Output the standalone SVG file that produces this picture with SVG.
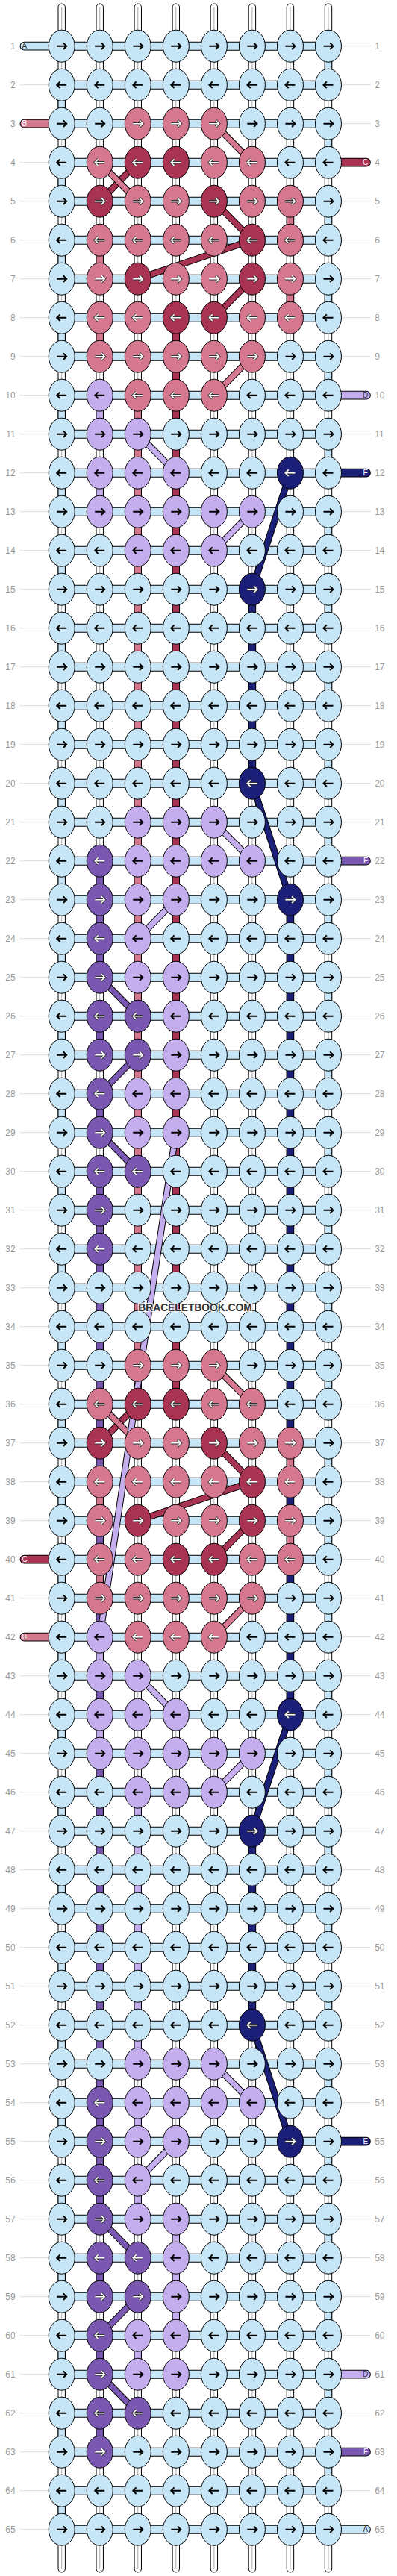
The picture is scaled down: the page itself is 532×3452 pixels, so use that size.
<svg xmlns="http://www.w3.org/2000/svg" width="532" height="3452" viewBox="0 0 532 3452">
<style>
text{font-family:"Liberation Sans",Arial,sans-serif}
.num{font-size:12px;fill:#999}
ellipse{stroke:#000;stroke-width:1}
.cL{fill:#c6e6f7}.cP{fill:#d4778f}.cR{fill:#a83353}.cV{fill:#c4aeee}.cN{fill:#1b1f77}.cU{fill:#7a58b2}
.ab{fill:none;stroke:#000;stroke-width:2}
.ao{fill:none;stroke:#333;stroke-width:3.4}
.aw{fill:none;stroke:#fff;stroke-width:1.6}
.vo{fill:none;stroke:#000;stroke-width:10.4}
.v{fill:none;stroke-width:8.4}
.da{stroke-dasharray:52 52}
.ho{fill:none;stroke:#000;stroke-width:12}
.hf{fill:none;stroke:#c6e6f7;stroke-width:10}
.do{fill:none;stroke:#000;stroke-width:9}
.d{fill:none;stroke-width:7}
.po{fill:none;stroke:#000;stroke-width:11.7;stroke-linecap:round}
.pf{fill:none;stroke-width:9.7;stroke-linecap:round}
.gl{fill:none;stroke:#bbb;stroke-width:1}
.ws{fill:#fff;stroke:#000;stroke-width:1}
.wc{fill:none;stroke:#aaa;stroke-width:1}
.lt{font-size:10px}
.sL{stroke:#c6e6f7}.sP{stroke:#d4778f}.sR{stroke:#a83353}.sV{stroke:#c4aeee}.sN{stroke:#1b1f77}.sU{stroke:#7a58b2}
</style>
<defs>
<path id="ar" d="M-6.5 0H6.2M2.2-4.3L6.5 0L2.2 4.3"/>
<path id="al" d="M6.5 0H-6.2M-2.2-4.3L-6.5 0L-2.2 4.3"/>
<g id="Lr"><ellipse rx="17.5" ry="21.5" class="cL"/><use href="#ar" class="ab"/></g>
<g id="Ll"><ellipse rx="17.5" ry="21.5" class="cL"/><use href="#al" class="ab"/></g>
<g id="Vr"><ellipse rx="17.5" ry="21.5" class="cV"/><use href="#ar" class="ab"/></g>
<g id="Vl"><ellipse rx="17.5" ry="21.5" class="cV"/><use href="#al" class="ab"/></g>
<g id="Pr"><ellipse rx="17.5" ry="21.5" class="cP"/><use href="#ar" class="ao"/><use href="#ar" class="aw"/></g>
<g id="Pl"><ellipse rx="17.5" ry="21.5" class="cP"/><use href="#al" class="ao"/><use href="#al" class="aw"/></g>
<g id="Rr"><ellipse rx="17.5" ry="21.5" class="cR"/><use href="#ar" class="ao"/><use href="#ar" class="aw"/></g>
<g id="Rl"><ellipse rx="17.5" ry="21.5" class="cR"/><use href="#al" class="ao"/><use href="#al" class="aw"/></g>
<g id="Nr"><ellipse rx="17.5" ry="21.5" class="cN"/><use href="#ar" class="ao"/><use href="#ar" class="aw"/></g>
<g id="Nl"><ellipse rx="17.5" ry="21.5" class="cN"/><use href="#al" class="ao"/><use href="#al" class="aw"/></g>
<g id="Ur"><ellipse rx="17.5" ry="21.5" class="cU"/><use href="#ar" class="ao"/><use href="#ar" class="aw"/></g>
<g id="Ul"><ellipse rx="17.5" ry="21.5" class="cU"/><use href="#al" class="ao"/><use href="#al" class="aw"/></g>
<path id="hz" d="M0 0h357.28M0 52h357.28M0 104h357.28M0 156h357.28M0 208h357.28M0 260h357.28M0 312h357.28M0 364h357.28M0 416h357.28M0 468h357.28M0 520h357.28M0 572h357.28M0 624h357.28M0 676h357.28M0 728h357.28M0 780h357.28M0 832h357.28M0 884h357.28M0 936h357.28M0 988h357.28M0 1040h357.28M0 1092h357.28M0 1144h357.28M0 1196h357.28M0 1248h357.28M0 1300h357.28M0 1352h357.28M0 1404h357.28M0 1456h357.28M0 1508h357.28M0 1560h357.28M0 1612h357.28M0 1664h357.28M0 1716h357.28M0 1768h357.28M0 1820h357.28M0 1872h357.28M0 1924h357.28M0 1976h357.28M0 2028h357.28M0 2080h357.28M0 2132h357.28M0 2184h357.28M0 2236h357.28M0 2288h357.28M0 2340h357.28M0 2392h357.28M0 2444h357.28M0 2496h357.28M0 2548h357.28M0 2600h357.28M0 2652h357.28M0 2704h357.28M0 2756h357.28M0 2808h357.28M0 2860h357.28M0 2912h357.28M0 2964h357.28M0 3016h357.28M0 3068h357.28M0 3120h357.28M0 3172h357.28M0 3224h357.28M0 3276h357.28M0 3328h357.28"/>
<path id="vE" d="M0 52V3328M357.28 0V3276"/>
<path id="vP" d="M51.04 260V312M51.04 364V416M51.04 1924V1976M51.04 2028V2080M102.08 468V1820M306.24 208V260M306.24 312V364M306.24 1872V1924M306.24 1976V2028"/>
<path id="vR" d="M153.12 364V1820"/>
<path id="vV" d="M51.04 468V520M51.04 572V624M51.04 2132V2184M51.04 2236V2288M102.08 2340V2704M102.08 2756V2808M102.08 2860V2912M102.08 3068V3120M153.12 2912V3068"/>
<path id="vN" d="M255.2 728V988M255.2 2392V2652M306.24 1144V1872M306.24 1924V1976M306.24 2028V2236"/>
<path id="vU" d="M51.04 1092V1248M51.04 1300V1352M51.04 1404V1456M51.04 1508V1924M51.04 1976V2028M51.04 2080V2132M51.04 2184V2236M51.04 2288V2912M51.04 2964V3016M51.04 3068V3120M51.04 3172V3224"/>
<path id="dR" d="M102.08 156L51.04 208M204.16 208L255.2 260M255.2 260L102.08 312M255.2 312L204.16 364M102.08 1820L51.04 1872M204.16 1872L255.2 1924M255.2 1924L102.08 1976M255.2 1976L204.16 2028"/>
<path id="dP" d="M204.16 104L255.2 156M51.04 156L102.08 208M255.2 416L204.16 468M204.16 1768L255.2 1820M51.04 1820L102.08 1872M255.2 2080L204.16 2132"/>
<path id="dV" d="M102.08 520L153.12 572M255.2 624L204.16 676M204.16 1040L255.2 1092M153.12 1144L102.08 1196M153.12 1456L51.04 2132M102.08 2184L153.12 2236M255.2 2288L204.16 2340M204.16 2704L255.2 2756M153.12 2808L102.08 2860"/>
<path id="dN" d="M306.24 572L255.2 728M255.2 988L306.24 1144M306.24 2236L255.2 2392M255.2 2652L306.24 2808"/>
<path id="dU" d="M51.04 1248L102.08 1300M102.08 1352L51.04 1404M51.04 1456L102.08 1508M51.04 2912L102.08 2964M102.08 3016L51.04 3068M51.04 3120L102.08 3172"/>
</defs>
<rect width="532" height="3452" fill="#fff"/>
<g transform="translate(82.7 61.7)">
<g id="labels">
<use href="#hz" class="gl" transform="translate(-56 0) scale(0.10776 1)"/>
<use href="#hz" class="gl" transform="translate(375 0) scale(0.10916 1)"/>
<g class="num" text-anchor="end" transform="translate(-62 4.3)"><text y="0">1</text><text y="52">2</text><text y="104">3</text><text y="156">4</text><text y="208">5</text><text y="260">6</text><text y="312">7</text><text y="364">8</text><text y="416">9</text><text y="468">10</text><text y="520">11</text><text y="572">12</text><text y="624">13</text><text y="676">14</text><text y="728">15</text><text y="780">16</text><text y="832">17</text><text y="884">18</text><text y="936">19</text><text y="988">20</text><text y="1040">21</text><text y="1092">22</text><text y="1144">23</text><text y="1196">24</text><text y="1248">25</text><text y="1300">26</text><text y="1352">27</text><text y="1404">28</text><text y="1456">29</text><text y="1508">30</text><text y="1560">31</text><text y="1612">32</text><text y="1664">33</text><text y="1716">34</text><text y="1768">35</text><text y="1820">36</text><text y="1872">37</text><text y="1924">38</text><text y="1976">39</text><text y="2028">40</text><text y="2080">41</text><text y="2132">42</text><text y="2184">43</text><text y="2236">44</text><text y="2288">45</text><text y="2340">46</text><text y="2392">47</text><text y="2444">48</text><text y="2496">49</text><text y="2548">50</text><text y="2600">51</text><text y="2652">52</text><text y="2704">53</text><text y="2756">54</text><text y="2808">55</text><text y="2860">56</text><text y="2912">57</text><text y="2964">58</text><text y="3016">59</text><text y="3068">60</text><text y="3120">61</text><text y="3172">62</text><text y="3224">63</text><text y="3276">64</text><text y="3328">65</text></g>
<g class="num" transform="translate(419.5 4.3)"><text y="0">1</text><text y="52">2</text><text y="104">3</text><text y="156">4</text><text y="208">5</text><text y="260">6</text><text y="312">7</text><text y="364">8</text><text y="416">9</text><text y="468">10</text><text y="520">11</text><text y="572">12</text><text y="624">13</text><text y="676">14</text><text y="728">15</text><text y="780">16</text><text y="832">17</text><text y="884">18</text><text y="936">19</text><text y="988">20</text><text y="1040">21</text><text y="1092">22</text><text y="1144">23</text><text y="1196">24</text><text y="1248">25</text><text y="1300">26</text><text y="1352">27</text><text y="1404">28</text><text y="1456">29</text><text y="1508">30</text><text y="1560">31</text><text y="1612">32</text><text y="1664">33</text><text y="1716">34</text><text y="1768">35</text><text y="1820">36</text><text y="1872">37</text><text y="1924">38</text><text y="1976">39</text><text y="2028">40</text><text y="2080">41</text><text y="2132">42</text><text y="2184">43</text><text y="2236">44</text><text y="2288">45</text><text y="2340">46</text><text y="2392">47</text><text y="2444">48</text><text y="2496">49</text><text y="2548">50</text><text y="2600">51</text><text y="2652">52</text><text y="2704">53</text><text y="2756">54</text><text y="2808">55</text><text y="2860">56</text><text y="2912">57</text><text y="2964">58</text><text y="3016">59</text><text y="3068">60</text><text y="3120">61</text><text y="3172">62</text><text y="3224">63</text><text y="3276">64</text><text y="3328">65</text></g>
</g>
<g id="connectors">
<rect class="ws" x="-4.7" y="-56.7" width="9.4" height="3442" rx="4.7"/>
<rect class="ws" x="46.34" y="-56.7" width="9.4" height="3442" rx="4.7"/>
<rect class="ws" x="97.38" y="-56.7" width="9.4" height="3442" rx="4.7"/>
<rect class="ws" x="148.42" y="-56.7" width="9.4" height="3442" rx="4.7"/>
<rect class="ws" x="199.46" y="-56.7" width="9.4" height="3442" rx="4.7"/>
<rect class="ws" x="250.5" y="-56.7" width="9.4" height="3442" rx="4.7"/>
<rect class="ws" x="301.54" y="-56.7" width="9.4" height="3442" rx="4.7"/>
<rect class="ws" x="352.58" y="-56.7" width="9.4" height="3442" rx="4.7"/>
<path class="wc" d="M0 -52V3381M51.04 -52V3381M102.08 -52V3381M153.12 -52V3381M204.16 -52V3381M255.2 -52V3381M306.24 -52V3381M357.28 -52V3381"/>
<use href="#vE" class="vo da"/><use href="#vE" class="v sL da"/>
<use href="#vP" class="vo"/><use href="#vP" class="v sP"/>
<use href="#vR" class="vo"/><use href="#vR" class="v sR"/>
<use href="#vV" class="vo"/><use href="#vV" class="v sV"/>
<use href="#vN" class="vo"/><use href="#vN" class="v sN"/>
<use href="#vU" class="vo"/><use href="#vU" class="v sU"/>
<use href="#hz" class="ho"/><use href="#hz" class="hf"/>
<path class="po" d="M-50.3 0H0M-50.3 104H0M-50.3 2028H0M-50.3 2132H0M357.28 156H408.3M357.28 468H408.3M357.28 572H408.3M357.28 1092H408.3M357.28 2808H408.3M357.28 3120H408.3M357.28 3224H408.3M357.28 3328H408.3"/>
<path class="pf sL" d="M-50.3 0H0M357.28 3328H408.3"/>
<path class="pf sP" d="M-50.3 104H0M-50.3 2132H0"/>
<path class="pf sR" d="M-50.3 2028H0M357.28 156H408.3"/>
<path class="pf sV" d="M357.28 468H408.3M357.28 3120H408.3"/>
<path class="pf sN" d="M357.28 572H408.3M357.28 2808H408.3"/>
<path class="pf sU" d="M357.28 1092H408.3M357.28 3224H408.3"/>
<g class="lt">
<text x="-53.2" y="3.6" fill="#333">A</text>
<text x="-53.2" y="107.6" fill="#fff">B</text>
<text x="-53.2" y="2031.6" fill="#fff">C</text>
<text x="-53.2" y="2135.6" fill="#fff">B</text>
<g text-anchor="end">
<text x="410.5" y="159.6" fill="#fff">C</text>
<text x="410.5" y="471.6" fill="#333">D</text>
<text x="410.5" y="575.6" fill="#fff">E</text>
<text x="410.5" y="1095.6" fill="#fff">F</text>
<text x="410.5" y="2811.6" fill="#fff">E</text>
<text x="410.5" y="3123.6" fill="#333">D</text>
<text x="410.5" y="3227.6" fill="#fff">F</text>
<text x="410.5" y="3331.6" fill="#333">A</text>
</g>
</g>
<use href="#dR" class="do"/><use href="#dR" class="d sR"/>
<use href="#dP" class="do"/><use href="#dP" class="d sP"/>
<use href="#dV" class="do"/><use href="#dV" class="d sV"/>
<use href="#dN" class="do"/><use href="#dN" class="d sN"/>
<use href="#dU" class="do"/><use href="#dU" class="d sU"/>
</g>
<g id="knots">
<g id="row1"><use href="#Lr" id="k1_1"/><use href="#Lr" x="51.04" id="k1_2"/><use href="#Lr" x="102.08" id="k1_3"/><use href="#Lr" x="153.12" id="k1_4"/><use href="#Lr" x="204.16" id="k1_5"/><use href="#Lr" x="255.2" id="k1_6"/><use href="#Lr" x="306.24" id="k1_7"/><use href="#Lr" x="357.28" id="k1_8"/></g>
<g id="row2" transform="translate(0 52)"><use href="#Ll" id="k2_1"/><use href="#Ll" x="51.04" id="k2_2"/><use href="#Ll" x="102.08" id="k2_3"/><use href="#Ll" x="153.12" id="k2_4"/><use href="#Ll" x="204.16" id="k2_5"/><use href="#Ll" x="255.2" id="k2_6"/><use href="#Ll" x="306.24" id="k2_7"/><use href="#Ll" x="357.28" id="k2_8"/></g>
<g id="row3" transform="translate(0 104)"><use href="#Lr" id="k3_1"/><use href="#Lr" x="51.04" id="k3_2"/><use href="#Pr" x="102.08" id="k3_3"/><use href="#Pr" x="153.12" id="k3_4"/><use href="#Pr" x="204.16" id="k3_5"/><use href="#Lr" x="255.2" id="k3_6"/><use href="#Lr" x="306.24" id="k3_7"/><use href="#Lr" x="357.28" id="k3_8"/></g>
<g id="row4" transform="translate(0 156)"><use href="#Ll" id="k4_1"/><use href="#Pl" x="51.04" id="k4_2"/><use href="#Rl" x="102.08" id="k4_3"/><use href="#Rl" x="153.12" id="k4_4"/><use href="#Pl" x="204.16" id="k4_5"/><use href="#Pl" x="255.2" id="k4_6"/><use href="#Ll" x="306.24" id="k4_7"/><use href="#Ll" x="357.28" id="k4_8"/></g>
<g id="row5" transform="translate(0 208)"><use href="#Lr" id="k5_1"/><use href="#Rr" x="51.04" id="k5_2"/><use href="#Pr" x="102.08" id="k5_3"/><use href="#Pr" x="153.12" id="k5_4"/><use href="#Rr" x="204.16" id="k5_5"/><use href="#Pr" x="255.2" id="k5_6"/><use href="#Pr" x="306.24" id="k5_7"/><use href="#Lr" x="357.28" id="k5_8"/></g>
<g id="row6" transform="translate(0 260)"><use href="#Ll" id="k6_1"/><use href="#Pl" x="51.04" id="k6_2"/><use href="#Pl" x="102.08" id="k6_3"/><use href="#Pl" x="153.12" id="k6_4"/><use href="#Pl" x="204.16" id="k6_5"/><use href="#Rl" x="255.2" id="k6_6"/><use href="#Pl" x="306.24" id="k6_7"/><use href="#Ll" x="357.28" id="k6_8"/></g>
<g id="row7" transform="translate(0 312)"><use href="#Lr" id="k7_1"/><use href="#Pr" x="51.04" id="k7_2"/><use href="#Rr" x="102.08" id="k7_3"/><use href="#Pr" x="153.12" id="k7_4"/><use href="#Pr" x="204.16" id="k7_5"/><use href="#Rr" x="255.2" id="k7_6"/><use href="#Pr" x="306.24" id="k7_7"/><use href="#Lr" x="357.28" id="k7_8"/></g>
<g id="row8" transform="translate(0 364)"><use href="#Ll" id="k8_1"/><use href="#Pl" x="51.04" id="k8_2"/><use href="#Pl" x="102.08" id="k8_3"/><use href="#Rl" x="153.12" id="k8_4"/><use href="#Rl" x="204.16" id="k8_5"/><use href="#Pl" x="255.2" id="k8_6"/><use href="#Pl" x="306.24" id="k8_7"/><use href="#Ll" x="357.28" id="k8_8"/></g>
<g id="row9" transform="translate(0 416)"><use href="#Lr" id="k9_1"/><use href="#Pr" x="51.04" id="k9_2"/><use href="#Pr" x="102.08" id="k9_3"/><use href="#Pr" x="153.12" id="k9_4"/><use href="#Pr" x="204.16" id="k9_5"/><use href="#Pr" x="255.2" id="k9_6"/><use href="#Lr" x="306.24" id="k9_7"/><use href="#Lr" x="357.28" id="k9_8"/></g>
<g id="row10" transform="translate(0 468)"><use href="#Ll" id="k10_1"/><use href="#Vl" x="51.04" id="k10_2"/><use href="#Pl" x="102.08" id="k10_3"/><use href="#Pl" x="153.12" id="k10_4"/><use href="#Pl" x="204.16" id="k10_5"/><use href="#Ll" x="255.2" id="k10_6"/><use href="#Ll" x="306.24" id="k10_7"/><use href="#Ll" x="357.28" id="k10_8"/></g>
<g id="row11" transform="translate(0 520)"><use href="#Lr" id="k11_1"/><use href="#Vr" x="51.04" id="k11_2"/><use href="#Vr" x="102.08" id="k11_3"/><use href="#Lr" x="153.12" id="k11_4"/><use href="#Lr" x="204.16" id="k11_5"/><use href="#Lr" x="255.2" id="k11_6"/><use href="#Lr" x="306.24" id="k11_7"/><use href="#Lr" x="357.28" id="k11_8"/></g>
<g id="row12" transform="translate(0 572)"><use href="#Ll" id="k12_1"/><use href="#Vl" x="51.04" id="k12_2"/><use href="#Vl" x="102.08" id="k12_3"/><use href="#Vl" x="153.12" id="k12_4"/><use href="#Ll" x="204.16" id="k12_5"/><use href="#Ll" x="255.2" id="k12_6"/><use href="#Nl" x="306.24" id="k12_7"/><use href="#Ll" x="357.28" id="k12_8"/></g>
<g id="row13" transform="translate(0 624)"><use href="#Lr" id="k13_1"/><use href="#Vr" x="51.04" id="k13_2"/><use href="#Vr" x="102.08" id="k13_3"/><use href="#Vr" x="153.12" id="k13_4"/><use href="#Vr" x="204.16" id="k13_5"/><use href="#Vr" x="255.2" id="k13_6"/><use href="#Lr" x="306.24" id="k13_7"/><use href="#Lr" x="357.28" id="k13_8"/></g>
<g id="row14" transform="translate(0 676)"><use href="#Ll" id="k14_1"/><use href="#Ll" x="51.04" id="k14_2"/><use href="#Vl" x="102.08" id="k14_3"/><use href="#Vl" x="153.12" id="k14_4"/><use href="#Vl" x="204.16" id="k14_5"/><use href="#Ll" x="255.2" id="k14_6"/><use href="#Ll" x="306.24" id="k14_7"/><use href="#Ll" x="357.28" id="k14_8"/></g>
<g id="row15" transform="translate(0 728)"><use href="#Lr" id="k15_1"/><use href="#Lr" x="51.04" id="k15_2"/><use href="#Lr" x="102.08" id="k15_3"/><use href="#Lr" x="153.12" id="k15_4"/><use href="#Lr" x="204.16" id="k15_5"/><use href="#Nr" x="255.2" id="k15_6"/><use href="#Lr" x="306.24" id="k15_7"/><use href="#Lr" x="357.28" id="k15_8"/></g>
<g id="row16" transform="translate(0 780)"><use href="#Ll" id="k16_1"/><use href="#Ll" x="51.04" id="k16_2"/><use href="#Ll" x="102.08" id="k16_3"/><use href="#Ll" x="153.12" id="k16_4"/><use href="#Ll" x="204.16" id="k16_5"/><use href="#Ll" x="255.2" id="k16_6"/><use href="#Ll" x="306.24" id="k16_7"/><use href="#Ll" x="357.28" id="k16_8"/></g>
<g id="row17" transform="translate(0 832)"><use href="#Lr" id="k17_1"/><use href="#Lr" x="51.04" id="k17_2"/><use href="#Lr" x="102.08" id="k17_3"/><use href="#Lr" x="153.12" id="k17_4"/><use href="#Lr" x="204.16" id="k17_5"/><use href="#Lr" x="255.2" id="k17_6"/><use href="#Lr" x="306.24" id="k17_7"/><use href="#Lr" x="357.28" id="k17_8"/></g>
<g id="row18" transform="translate(0 884)"><use href="#Ll" id="k18_1"/><use href="#Ll" x="51.04" id="k18_2"/><use href="#Ll" x="102.08" id="k18_3"/><use href="#Ll" x="153.12" id="k18_4"/><use href="#Ll" x="204.16" id="k18_5"/><use href="#Ll" x="255.2" id="k18_6"/><use href="#Ll" x="306.24" id="k18_7"/><use href="#Ll" x="357.28" id="k18_8"/></g>
<g id="row19" transform="translate(0 936)"><use href="#Lr" id="k19_1"/><use href="#Lr" x="51.04" id="k19_2"/><use href="#Lr" x="102.08" id="k19_3"/><use href="#Lr" x="153.12" id="k19_4"/><use href="#Lr" x="204.16" id="k19_5"/><use href="#Lr" x="255.2" id="k19_6"/><use href="#Lr" x="306.24" id="k19_7"/><use href="#Lr" x="357.28" id="k19_8"/></g>
<g id="row20" transform="translate(0 988)"><use href="#Ll" id="k20_1"/><use href="#Ll" x="51.04" id="k20_2"/><use href="#Ll" x="102.08" id="k20_3"/><use href="#Ll" x="153.12" id="k20_4"/><use href="#Ll" x="204.16" id="k20_5"/><use href="#Nl" x="255.2" id="k20_6"/><use href="#Ll" x="306.24" id="k20_7"/><use href="#Ll" x="357.28" id="k20_8"/></g>
<g id="row21" transform="translate(0 1040)"><use href="#Lr" id="k21_1"/><use href="#Lr" x="51.04" id="k21_2"/><use href="#Vr" x="102.08" id="k21_3"/><use href="#Vr" x="153.12" id="k21_4"/><use href="#Vr" x="204.16" id="k21_5"/><use href="#Lr" x="255.2" id="k21_6"/><use href="#Lr" x="306.24" id="k21_7"/><use href="#Lr" x="357.28" id="k21_8"/></g>
<g id="row22" transform="translate(0 1092)"><use href="#Ll" id="k22_1"/><use href="#Ul" x="51.04" id="k22_2"/><use href="#Vl" x="102.08" id="k22_3"/><use href="#Vl" x="153.12" id="k22_4"/><use href="#Vl" x="204.16" id="k22_5"/><use href="#Vl" x="255.2" id="k22_6"/><use href="#Ll" x="306.24" id="k22_7"/><use href="#Ll" x="357.28" id="k22_8"/></g>
<g id="row23" transform="translate(0 1144)"><use href="#Lr" id="k23_1"/><use href="#Ur" x="51.04" id="k23_2"/><use href="#Vr" x="102.08" id="k23_3"/><use href="#Vr" x="153.12" id="k23_4"/><use href="#Lr" x="204.16" id="k23_5"/><use href="#Lr" x="255.2" id="k23_6"/><use href="#Nr" x="306.24" id="k23_7"/><use href="#Lr" x="357.28" id="k23_8"/></g>
<g id="row24" transform="translate(0 1196)"><use href="#Ll" id="k24_1"/><use href="#Ul" x="51.04" id="k24_2"/><use href="#Vl" x="102.08" id="k24_3"/><use href="#Ll" x="153.12" id="k24_4"/><use href="#Ll" x="204.16" id="k24_5"/><use href="#Ll" x="255.2" id="k24_6"/><use href="#Ll" x="306.24" id="k24_7"/><use href="#Ll" x="357.28" id="k24_8"/></g>
<g id="row25" transform="translate(0 1248)"><use href="#Lr" id="k25_1"/><use href="#Ur" x="51.04" id="k25_2"/><use href="#Vr" x="102.08" id="k25_3"/><use href="#Vr" x="153.12" id="k25_4"/><use href="#Lr" x="204.16" id="k25_5"/><use href="#Lr" x="255.2" id="k25_6"/><use href="#Lr" x="306.24" id="k25_7"/><use href="#Lr" x="357.28" id="k25_8"/></g>
<g id="row26" transform="translate(0 1300)"><use href="#Ll" id="k26_1"/><use href="#Ul" x="51.04" id="k26_2"/><use href="#Ul" x="102.08" id="k26_3"/><use href="#Vl" x="153.12" id="k26_4"/><use href="#Ll" x="204.16" id="k26_5"/><use href="#Ll" x="255.2" id="k26_6"/><use href="#Ll" x="306.24" id="k26_7"/><use href="#Ll" x="357.28" id="k26_8"/></g>
<g id="row27" transform="translate(0 1352)"><use href="#Lr" id="k27_1"/><use href="#Ur" x="51.04" id="k27_2"/><use href="#Ur" x="102.08" id="k27_3"/><use href="#Vr" x="153.12" id="k27_4"/><use href="#Lr" x="204.16" id="k27_5"/><use href="#Lr" x="255.2" id="k27_6"/><use href="#Lr" x="306.24" id="k27_7"/><use href="#Lr" x="357.28" id="k27_8"/></g>
<g id="row28" transform="translate(0 1404)"><use href="#Ll" id="k28_1"/><use href="#Ul" x="51.04" id="k28_2"/><use href="#Vl" x="102.08" id="k28_3"/><use href="#Vl" x="153.12" id="k28_4"/><use href="#Ll" x="204.16" id="k28_5"/><use href="#Ll" x="255.2" id="k28_6"/><use href="#Ll" x="306.24" id="k28_7"/><use href="#Ll" x="357.28" id="k28_8"/></g>
<g id="row29" transform="translate(0 1456)"><use href="#Lr" id="k29_1"/><use href="#Ur" x="51.04" id="k29_2"/><use href="#Vr" x="102.08" id="k29_3"/><use href="#Vr" x="153.12" id="k29_4"/><use href="#Lr" x="204.16" id="k29_5"/><use href="#Lr" x="255.2" id="k29_6"/><use href="#Lr" x="306.24" id="k29_7"/><use href="#Lr" x="357.28" id="k29_8"/></g>
<g id="row30" transform="translate(0 1508)"><use href="#Ll" id="k30_1"/><use href="#Ul" x="51.04" id="k30_2"/><use href="#Ul" x="102.08" id="k30_3"/><use href="#Ll" x="153.12" id="k30_4"/><use href="#Ll" x="204.16" id="k30_5"/><use href="#Ll" x="255.2" id="k30_6"/><use href="#Ll" x="306.24" id="k30_7"/><use href="#Ll" x="357.28" id="k30_8"/></g>
<g id="row31" transform="translate(0 1560)"><use href="#Lr" id="k31_1"/><use href="#Ur" x="51.04" id="k31_2"/><use href="#Lr" x="102.08" id="k31_3"/><use href="#Lr" x="153.12" id="k31_4"/><use href="#Lr" x="204.16" id="k31_5"/><use href="#Lr" x="255.2" id="k31_6"/><use href="#Lr" x="306.24" id="k31_7"/><use href="#Lr" x="357.28" id="k31_8"/></g>
<g id="row32" transform="translate(0 1612)"><use href="#Ll" id="k32_1"/><use href="#Ul" x="51.04" id="k32_2"/><use href="#Ll" x="102.08" id="k32_3"/><use href="#Ll" x="153.12" id="k32_4"/><use href="#Ll" x="204.16" id="k32_5"/><use href="#Ll" x="255.2" id="k32_6"/><use href="#Ll" x="306.24" id="k32_7"/><use href="#Ll" x="357.28" id="k32_8"/></g>
<g id="row33" transform="translate(0 1664)"><use href="#Lr" id="k33_1"/><use href="#Lr" x="51.04" id="k33_2"/><use href="#Lr" x="102.08" id="k33_3"/><use href="#Lr" x="153.12" id="k33_4"/><use href="#Lr" x="204.16" id="k33_5"/><use href="#Lr" x="255.2" id="k33_6"/><use href="#Lr" x="306.24" id="k33_7"/><use href="#Lr" x="357.28" id="k33_8"/></g>
<g id="row34" transform="translate(0 1716)"><use href="#Ll" id="k34_1"/><use href="#Ll" x="51.04" id="k34_2"/><use href="#Ll" x="102.08" id="k34_3"/><use href="#Ll" x="153.12" id="k34_4"/><use href="#Ll" x="204.16" id="k34_5"/><use href="#Ll" x="255.2" id="k34_6"/><use href="#Ll" x="306.24" id="k34_7"/><use href="#Ll" x="357.28" id="k34_8"/></g>
<g id="row35" transform="translate(0 1768)"><use href="#Lr" id="k35_1"/><use href="#Lr" x="51.04" id="k35_2"/><use href="#Pr" x="102.08" id="k35_3"/><use href="#Pr" x="153.12" id="k35_4"/><use href="#Pr" x="204.16" id="k35_5"/><use href="#Lr" x="255.2" id="k35_6"/><use href="#Lr" x="306.24" id="k35_7"/><use href="#Lr" x="357.28" id="k35_8"/></g>
<g id="row36" transform="translate(0 1820)"><use href="#Ll" id="k36_1"/><use href="#Pl" x="51.04" id="k36_2"/><use href="#Rl" x="102.08" id="k36_3"/><use href="#Rl" x="153.12" id="k36_4"/><use href="#Pl" x="204.16" id="k36_5"/><use href="#Pl" x="255.2" id="k36_6"/><use href="#Ll" x="306.24" id="k36_7"/><use href="#Ll" x="357.28" id="k36_8"/></g>
<g id="row37" transform="translate(0 1872)"><use href="#Lr" id="k37_1"/><use href="#Rr" x="51.04" id="k37_2"/><use href="#Pr" x="102.08" id="k37_3"/><use href="#Pr" x="153.12" id="k37_4"/><use href="#Rr" x="204.16" id="k37_5"/><use href="#Pr" x="255.2" id="k37_6"/><use href="#Pr" x="306.24" id="k37_7"/><use href="#Lr" x="357.28" id="k37_8"/></g>
<g id="row38" transform="translate(0 1924)"><use href="#Ll" id="k38_1"/><use href="#Pl" x="51.04" id="k38_2"/><use href="#Pl" x="102.08" id="k38_3"/><use href="#Pl" x="153.12" id="k38_4"/><use href="#Pl" x="204.16" id="k38_5"/><use href="#Rl" x="255.2" id="k38_6"/><use href="#Pl" x="306.24" id="k38_7"/><use href="#Ll" x="357.28" id="k38_8"/></g>
<g id="row39" transform="translate(0 1976)"><use href="#Lr" id="k39_1"/><use href="#Pr" x="51.04" id="k39_2"/><use href="#Rr" x="102.08" id="k39_3"/><use href="#Pr" x="153.12" id="k39_4"/><use href="#Pr" x="204.16" id="k39_5"/><use href="#Rr" x="255.2" id="k39_6"/><use href="#Pr" x="306.24" id="k39_7"/><use href="#Lr" x="357.28" id="k39_8"/></g>
<g id="row40" transform="translate(0 2028)"><use href="#Ll" id="k40_1"/><use href="#Pl" x="51.04" id="k40_2"/><use href="#Pl" x="102.08" id="k40_3"/><use href="#Rl" x="153.12" id="k40_4"/><use href="#Rl" x="204.16" id="k40_5"/><use href="#Pl" x="255.2" id="k40_6"/><use href="#Pl" x="306.24" id="k40_7"/><use href="#Ll" x="357.28" id="k40_8"/></g>
<g id="row41" transform="translate(0 2080)"><use href="#Lr" id="k41_1"/><use href="#Pr" x="51.04" id="k41_2"/><use href="#Pr" x="102.08" id="k41_3"/><use href="#Pr" x="153.12" id="k41_4"/><use href="#Pr" x="204.16" id="k41_5"/><use href="#Pr" x="255.2" id="k41_6"/><use href="#Lr" x="306.24" id="k41_7"/><use href="#Lr" x="357.28" id="k41_8"/></g>
<g id="row42" transform="translate(0 2132)"><use href="#Ll" id="k42_1"/><use href="#Vl" x="51.04" id="k42_2"/><use href="#Pl" x="102.08" id="k42_3"/><use href="#Pl" x="153.12" id="k42_4"/><use href="#Pl" x="204.16" id="k42_5"/><use href="#Ll" x="255.2" id="k42_6"/><use href="#Ll" x="306.24" id="k42_7"/><use href="#Ll" x="357.28" id="k42_8"/></g>
<g id="row43" transform="translate(0 2184)"><use href="#Lr" id="k43_1"/><use href="#Vr" x="51.04" id="k43_2"/><use href="#Vr" x="102.08" id="k43_3"/><use href="#Lr" x="153.12" id="k43_4"/><use href="#Lr" x="204.16" id="k43_5"/><use href="#Lr" x="255.2" id="k43_6"/><use href="#Lr" x="306.24" id="k43_7"/><use href="#Lr" x="357.28" id="k43_8"/></g>
<g id="row44" transform="translate(0 2236)"><use href="#Ll" id="k44_1"/><use href="#Vl" x="51.04" id="k44_2"/><use href="#Vl" x="102.08" id="k44_3"/><use href="#Vl" x="153.12" id="k44_4"/><use href="#Ll" x="204.16" id="k44_5"/><use href="#Ll" x="255.2" id="k44_6"/><use href="#Nl" x="306.24" id="k44_7"/><use href="#Ll" x="357.28" id="k44_8"/></g>
<g id="row45" transform="translate(0 2288)"><use href="#Lr" id="k45_1"/><use href="#Vr" x="51.04" id="k45_2"/><use href="#Vr" x="102.08" id="k45_3"/><use href="#Vr" x="153.12" id="k45_4"/><use href="#Vr" x="204.16" id="k45_5"/><use href="#Vr" x="255.2" id="k45_6"/><use href="#Lr" x="306.24" id="k45_7"/><use href="#Lr" x="357.28" id="k45_8"/></g>
<g id="row46" transform="translate(0 2340)"><use href="#Ll" id="k46_1"/><use href="#Ll" x="51.04" id="k46_2"/><use href="#Vl" x="102.08" id="k46_3"/><use href="#Vl" x="153.12" id="k46_4"/><use href="#Vl" x="204.16" id="k46_5"/><use href="#Ll" x="255.2" id="k46_6"/><use href="#Ll" x="306.24" id="k46_7"/><use href="#Ll" x="357.28" id="k46_8"/></g>
<g id="row47" transform="translate(0 2392)"><use href="#Lr" id="k47_1"/><use href="#Lr" x="51.04" id="k47_2"/><use href="#Lr" x="102.08" id="k47_3"/><use href="#Lr" x="153.12" id="k47_4"/><use href="#Lr" x="204.16" id="k47_5"/><use href="#Nr" x="255.2" id="k47_6"/><use href="#Lr" x="306.24" id="k47_7"/><use href="#Lr" x="357.28" id="k47_8"/></g>
<g id="row48" transform="translate(0 2444)"><use href="#Ll" id="k48_1"/><use href="#Ll" x="51.04" id="k48_2"/><use href="#Ll" x="102.08" id="k48_3"/><use href="#Ll" x="153.12" id="k48_4"/><use href="#Ll" x="204.16" id="k48_5"/><use href="#Ll" x="255.2" id="k48_6"/><use href="#Ll" x="306.24" id="k48_7"/><use href="#Ll" x="357.28" id="k48_8"/></g>
<g id="row49" transform="translate(0 2496)"><use href="#Lr" id="k49_1"/><use href="#Lr" x="51.04" id="k49_2"/><use href="#Lr" x="102.08" id="k49_3"/><use href="#Lr" x="153.12" id="k49_4"/><use href="#Lr" x="204.16" id="k49_5"/><use href="#Lr" x="255.2" id="k49_6"/><use href="#Lr" x="306.24" id="k49_7"/><use href="#Lr" x="357.28" id="k49_8"/></g>
<g id="row50" transform="translate(0 2548)"><use href="#Ll" id="k50_1"/><use href="#Ll" x="51.04" id="k50_2"/><use href="#Ll" x="102.08" id="k50_3"/><use href="#Ll" x="153.12" id="k50_4"/><use href="#Ll" x="204.16" id="k50_5"/><use href="#Ll" x="255.2" id="k50_6"/><use href="#Ll" x="306.24" id="k50_7"/><use href="#Ll" x="357.28" id="k50_8"/></g>
<g id="row51" transform="translate(0 2600)"><use href="#Lr" id="k51_1"/><use href="#Lr" x="51.04" id="k51_2"/><use href="#Lr" x="102.08" id="k51_3"/><use href="#Lr" x="153.12" id="k51_4"/><use href="#Lr" x="204.16" id="k51_5"/><use href="#Lr" x="255.2" id="k51_6"/><use href="#Lr" x="306.24" id="k51_7"/><use href="#Lr" x="357.28" id="k51_8"/></g>
<g id="row52" transform="translate(0 2652)"><use href="#Ll" id="k52_1"/><use href="#Ll" x="51.04" id="k52_2"/><use href="#Ll" x="102.08" id="k52_3"/><use href="#Ll" x="153.12" id="k52_4"/><use href="#Ll" x="204.16" id="k52_5"/><use href="#Nl" x="255.2" id="k52_6"/><use href="#Ll" x="306.24" id="k52_7"/><use href="#Ll" x="357.28" id="k52_8"/></g>
<g id="row53" transform="translate(0 2704)"><use href="#Lr" id="k53_1"/><use href="#Lr" x="51.04" id="k53_2"/><use href="#Vr" x="102.08" id="k53_3"/><use href="#Vr" x="153.12" id="k53_4"/><use href="#Vr" x="204.16" id="k53_5"/><use href="#Lr" x="255.2" id="k53_6"/><use href="#Lr" x="306.24" id="k53_7"/><use href="#Lr" x="357.28" id="k53_8"/></g>
<g id="row54" transform="translate(0 2756)"><use href="#Ll" id="k54_1"/><use href="#Ul" x="51.04" id="k54_2"/><use href="#Vl" x="102.08" id="k54_3"/><use href="#Vl" x="153.12" id="k54_4"/><use href="#Vl" x="204.16" id="k54_5"/><use href="#Vl" x="255.2" id="k54_6"/><use href="#Ll" x="306.24" id="k54_7"/><use href="#Ll" x="357.28" id="k54_8"/></g>
<g id="row55" transform="translate(0 2808)"><use href="#Lr" id="k55_1"/><use href="#Ur" x="51.04" id="k55_2"/><use href="#Vr" x="102.08" id="k55_3"/><use href="#Vr" x="153.12" id="k55_4"/><use href="#Lr" x="204.16" id="k55_5"/><use href="#Lr" x="255.2" id="k55_6"/><use href="#Nr" x="306.24" id="k55_7"/><use href="#Lr" x="357.28" id="k55_8"/></g>
<g id="row56" transform="translate(0 2860)"><use href="#Ll" id="k56_1"/><use href="#Ul" x="51.04" id="k56_2"/><use href="#Vl" x="102.08" id="k56_3"/><use href="#Ll" x="153.12" id="k56_4"/><use href="#Ll" x="204.16" id="k56_5"/><use href="#Ll" x="255.2" id="k56_6"/><use href="#Ll" x="306.24" id="k56_7"/><use href="#Ll" x="357.28" id="k56_8"/></g>
<g id="row57" transform="translate(0 2912)"><use href="#Lr" id="k57_1"/><use href="#Ur" x="51.04" id="k57_2"/><use href="#Vr" x="102.08" id="k57_3"/><use href="#Vr" x="153.12" id="k57_4"/><use href="#Lr" x="204.16" id="k57_5"/><use href="#Lr" x="255.2" id="k57_6"/><use href="#Lr" x="306.24" id="k57_7"/><use href="#Lr" x="357.28" id="k57_8"/></g>
<g id="row58" transform="translate(0 2964)"><use href="#Ll" id="k58_1"/><use href="#Ul" x="51.04" id="k58_2"/><use href="#Ul" x="102.08" id="k58_3"/><use href="#Vl" x="153.12" id="k58_4"/><use href="#Ll" x="204.16" id="k58_5"/><use href="#Ll" x="255.2" id="k58_6"/><use href="#Ll" x="306.24" id="k58_7"/><use href="#Ll" x="357.28" id="k58_8"/></g>
<g id="row59" transform="translate(0 3016)"><use href="#Lr" id="k59_1"/><use href="#Ur" x="51.04" id="k59_2"/><use href="#Ur" x="102.08" id="k59_3"/><use href="#Vr" x="153.12" id="k59_4"/><use href="#Lr" x="204.16" id="k59_5"/><use href="#Lr" x="255.2" id="k59_6"/><use href="#Lr" x="306.24" id="k59_7"/><use href="#Lr" x="357.28" id="k59_8"/></g>
<g id="row60" transform="translate(0 3068)"><use href="#Ll" id="k60_1"/><use href="#Ul" x="51.04" id="k60_2"/><use href="#Vl" x="102.08" id="k60_3"/><use href="#Vl" x="153.12" id="k60_4"/><use href="#Ll" x="204.16" id="k60_5"/><use href="#Ll" x="255.2" id="k60_6"/><use href="#Ll" x="306.24" id="k60_7"/><use href="#Ll" x="357.28" id="k60_8"/></g>
<g id="row61" transform="translate(0 3120)"><use href="#Lr" id="k61_1"/><use href="#Ur" x="51.04" id="k61_2"/><use href="#Vr" x="102.08" id="k61_3"/><use href="#Vr" x="153.12" id="k61_4"/><use href="#Lr" x="204.16" id="k61_5"/><use href="#Lr" x="255.2" id="k61_6"/><use href="#Lr" x="306.24" id="k61_7"/><use href="#Lr" x="357.28" id="k61_8"/></g>
<g id="row62" transform="translate(0 3172)"><use href="#Ll" id="k62_1"/><use href="#Ul" x="51.04" id="k62_2"/><use href="#Ul" x="102.08" id="k62_3"/><use href="#Ll" x="153.12" id="k62_4"/><use href="#Ll" x="204.16" id="k62_5"/><use href="#Ll" x="255.2" id="k62_6"/><use href="#Ll" x="306.24" id="k62_7"/><use href="#Ll" x="357.28" id="k62_8"/></g>
<g id="row63" transform="translate(0 3224)"><use href="#Lr" id="k63_1"/><use href="#Ur" x="51.04" id="k63_2"/><use href="#Lr" x="102.08" id="k63_3"/><use href="#Lr" x="153.12" id="k63_4"/><use href="#Lr" x="204.16" id="k63_5"/><use href="#Lr" x="255.2" id="k63_6"/><use href="#Lr" x="306.24" id="k63_7"/><use href="#Lr" x="357.28" id="k63_8"/></g>
<g id="row64" transform="translate(0 3276)"><use href="#Ll" id="k64_1"/><use href="#Ll" x="51.04" id="k64_2"/><use href="#Ll" x="102.08" id="k64_3"/><use href="#Ll" x="153.12" id="k64_4"/><use href="#Ll" x="204.16" id="k64_5"/><use href="#Ll" x="255.2" id="k64_6"/><use href="#Ll" x="306.24" id="k64_7"/><use href="#Ll" x="357.28" id="k64_8"/></g>
<g id="row65" transform="translate(0 3328)"><use href="#Lr" id="k65_1"/><use href="#Lr" x="51.04" id="k65_2"/><use href="#Lr" x="102.08" id="k65_3"/><use href="#Lr" x="153.12" id="k65_4"/><use href="#Lr" x="204.16" id="k65_5"/><use href="#Lr" x="255.2" id="k65_6"/><use href="#Lr" x="306.24" id="k65_7"/><use href="#Lr" x="357.28" id="k65_8"/></g>
</g>
</g>
<text x="261.5" y="1757" text-anchor="middle" font-family="'Liberation Sans',Arial,sans-serif" font-size="13.8" font-weight="bold" fill="#333" stroke="#fff" stroke-width="2.4" stroke-opacity="0.8" paint-order="stroke">BRACELETBOOK.COM</text>
</svg>
